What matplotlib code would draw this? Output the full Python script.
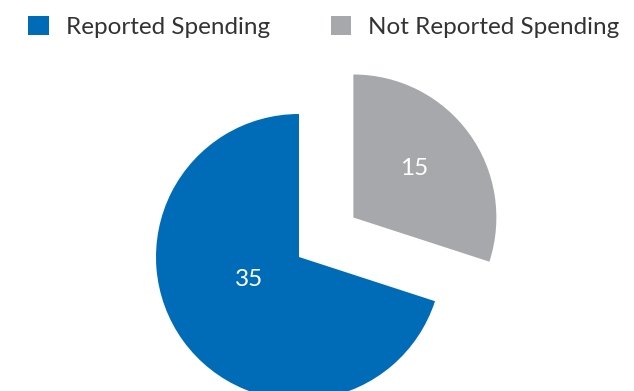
import matplotlib.pyplot as plt

# Spending split
labels = ['Reported Spending', 'Not Reported Spending']
values = [35, 15]
colors = ['#006cb7', '#a7a8ab']

plt.rcParams['font.family'] = ['Lato', 'DejaVu Sans']

W, H = 634, 391
fig = plt.figure(figsize=(W / 100, H / 100), dpi=100)
ax = fig.add_axes([0, 0, 1, 1])

# pie centre and radius in pixels
cx, cy, r = 299, 257, 143

wedges, texts = ax.pie(values, colors=colors, startangle=90,
                       explode=[0, 0.47], radius=1,
                       wedgeprops=dict(linewidth=0))

# value labels inside the slices
ax.text(-0.35, -0.16, str(values[0]), color='white', fontsize=17.5,
        ha='center', va='center')
ax.text(0.804, 0.622, str(values[1]), color='white', fontsize=17.5,
        ha='center', va='center')

ax.set_xlim(-cx / r, (W - cx) / r)
ax.set_ylim(-(H - cy) / r, cy / r)
ax.set_aspect('equal', adjustable='box')
ax.axis('off')

fig.legend(wedges, labels, loc='upper left', ncol=2, frameon=False,
           bbox_to_anchor=(28 / W, 1 - 16 / H), borderpad=0, borderaxespad=0,
           fontsize=17.5, handlelength=0.85, handleheight=0.85,
           handletextpad=0.7, columnspacing=2.5, labelcolor='#333333')

fig.savefig('out.png', dpi=100)
